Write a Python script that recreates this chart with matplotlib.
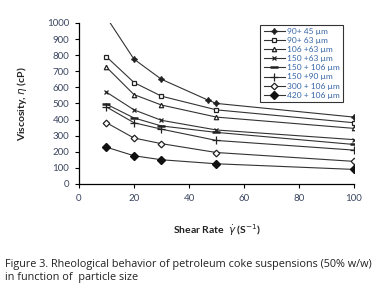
import matplotlib
matplotlib.use("Agg")
import matplotlib.pyplot as plt

plt.rcParams["font.family"] = ["Lato", "DejaVu Sans"]

shear_rate = [10, 20, 30, 50, 100]

series_names = [
    "90+ 45 µm",
    "90+ 63 µm",
    "106 +63 µm",
    "150 +63 µm",
    "150 + 106 µm",
    "150 +90 µm",
    "300 + 106 µm",
    "420 + 106 µm",
]

# la primera serie tiene un punto extra en 47
shear_rate_90_45 = [10, 20, 30, 47, 50, 100]
visc_90_45 = [1035, 775, 650, 520, 500, 415]
visc_90_63 = [790, 630, 545, 460, 380]
visc_106_63 = [725, 555, 490, 415, 345]
visc_150_63 = [570, 460, 395, 335, 275]
visc_150_106 = [495, 410, 360, 320, 245]
visc_150_90 = [478, 380, 340, 270, 210]
visc_300_106 = [380, 285, 250, 195, 140]
visc_420_106 = [228, 175, 150, 125, 90]

estilos = [
    dict(marker=(4, 1, 0), ms=4.2, mfc="#222", mec="#222"),
    dict(marker="s", ms=3.2, mfc="white", mec="#222", mew=0.9),
    dict(marker="^", ms=3.2, mfc="white", mec="#222", mew=0.9),
    dict(marker="x", ms=3.4, mec="#222", mew=0.9),
    dict(marker="_", ms=6, mec="#222", mew=1.8),
    dict(marker="+", ms=6, mec="#222", mew=0.9),
    dict(marker="D", ms=3.4, mfc="white", mec="#222", mew=0.9),
    dict(marker="D", ms=3.6, mfc="#111", mec="#111"),
]

datos = [
    (shear_rate_90_45, visc_90_45),
    (shear_rate, visc_90_63),
    (shear_rate, visc_106_63),
    (shear_rate, visc_150_63),
    (shear_rate, visc_150_106),
    (shear_rate, visc_150_90),
    (shear_rate, visc_300_106),
    (shear_rate, visc_420_106),
]

fig = plt.figure(figsize=(3.89, 3.06), dpi=100)
ax = fig.add_axes([0.203, 0.399, 0.707, 0.526])

for (x, y), nombre, estilo in zip(datos, series_names, estilos):
    ax.plot(x, y, color="#333", lw=0.8, label=nombre, **estilo)

ax.set_xlim(0, 100)
ax.set_ylim(0, 1000)
ax.set_xticks(range(0, 101, 20))
ax.set_yticks(range(0, 1001, 100))
ax.spines["top"].set_visible(False)
ax.spines["right"].set_visible(False)
for s in ["left", "bottom"]:
    ax.spines[s].set_linewidth(0.9)
ax.tick_params(direction="out", length=3, width=0.8, labelsize=7,
               labelcolor="#3b4660", pad=4)

ax.set_ylabel(r"Viscosity, $\eta$ (cP)", fontsize=7.5, fontweight="bold",
              color="#222", labelpad=13)
ax.set_xlabel(r"Shear Rate  $\dot{\gamma}$ (S$^{-1}$)", fontsize=7.5,
              fontweight="bold", color="#222", labelpad=14)

leg = ax.legend(loc="upper right", bbox_to_anchor=(0.975, 1.015),
                fontsize=6, handlelength=2.6, handletextpad=0.2,
                labelspacing=0.25, borderpad=0.4, frameon=True,
                fancybox=False, labelcolor="#3566a8")
leg.get_frame().set_edgecolor("black")
leg.get_frame().set_linewidth(0.8)

fig.text(0.013, 1 - 259 / 306,
         "Figure 3. Rheological behavior of petroleum coke suspensions (50% w/w)\n"
         "in function of  particle size",
         fontsize=7.8, color="#222", va="top", ha="left", linespacing=1.25,
         family=["Open Sans", "DejaVu Sans"])

fig.savefig("out.png", dpi=100)
